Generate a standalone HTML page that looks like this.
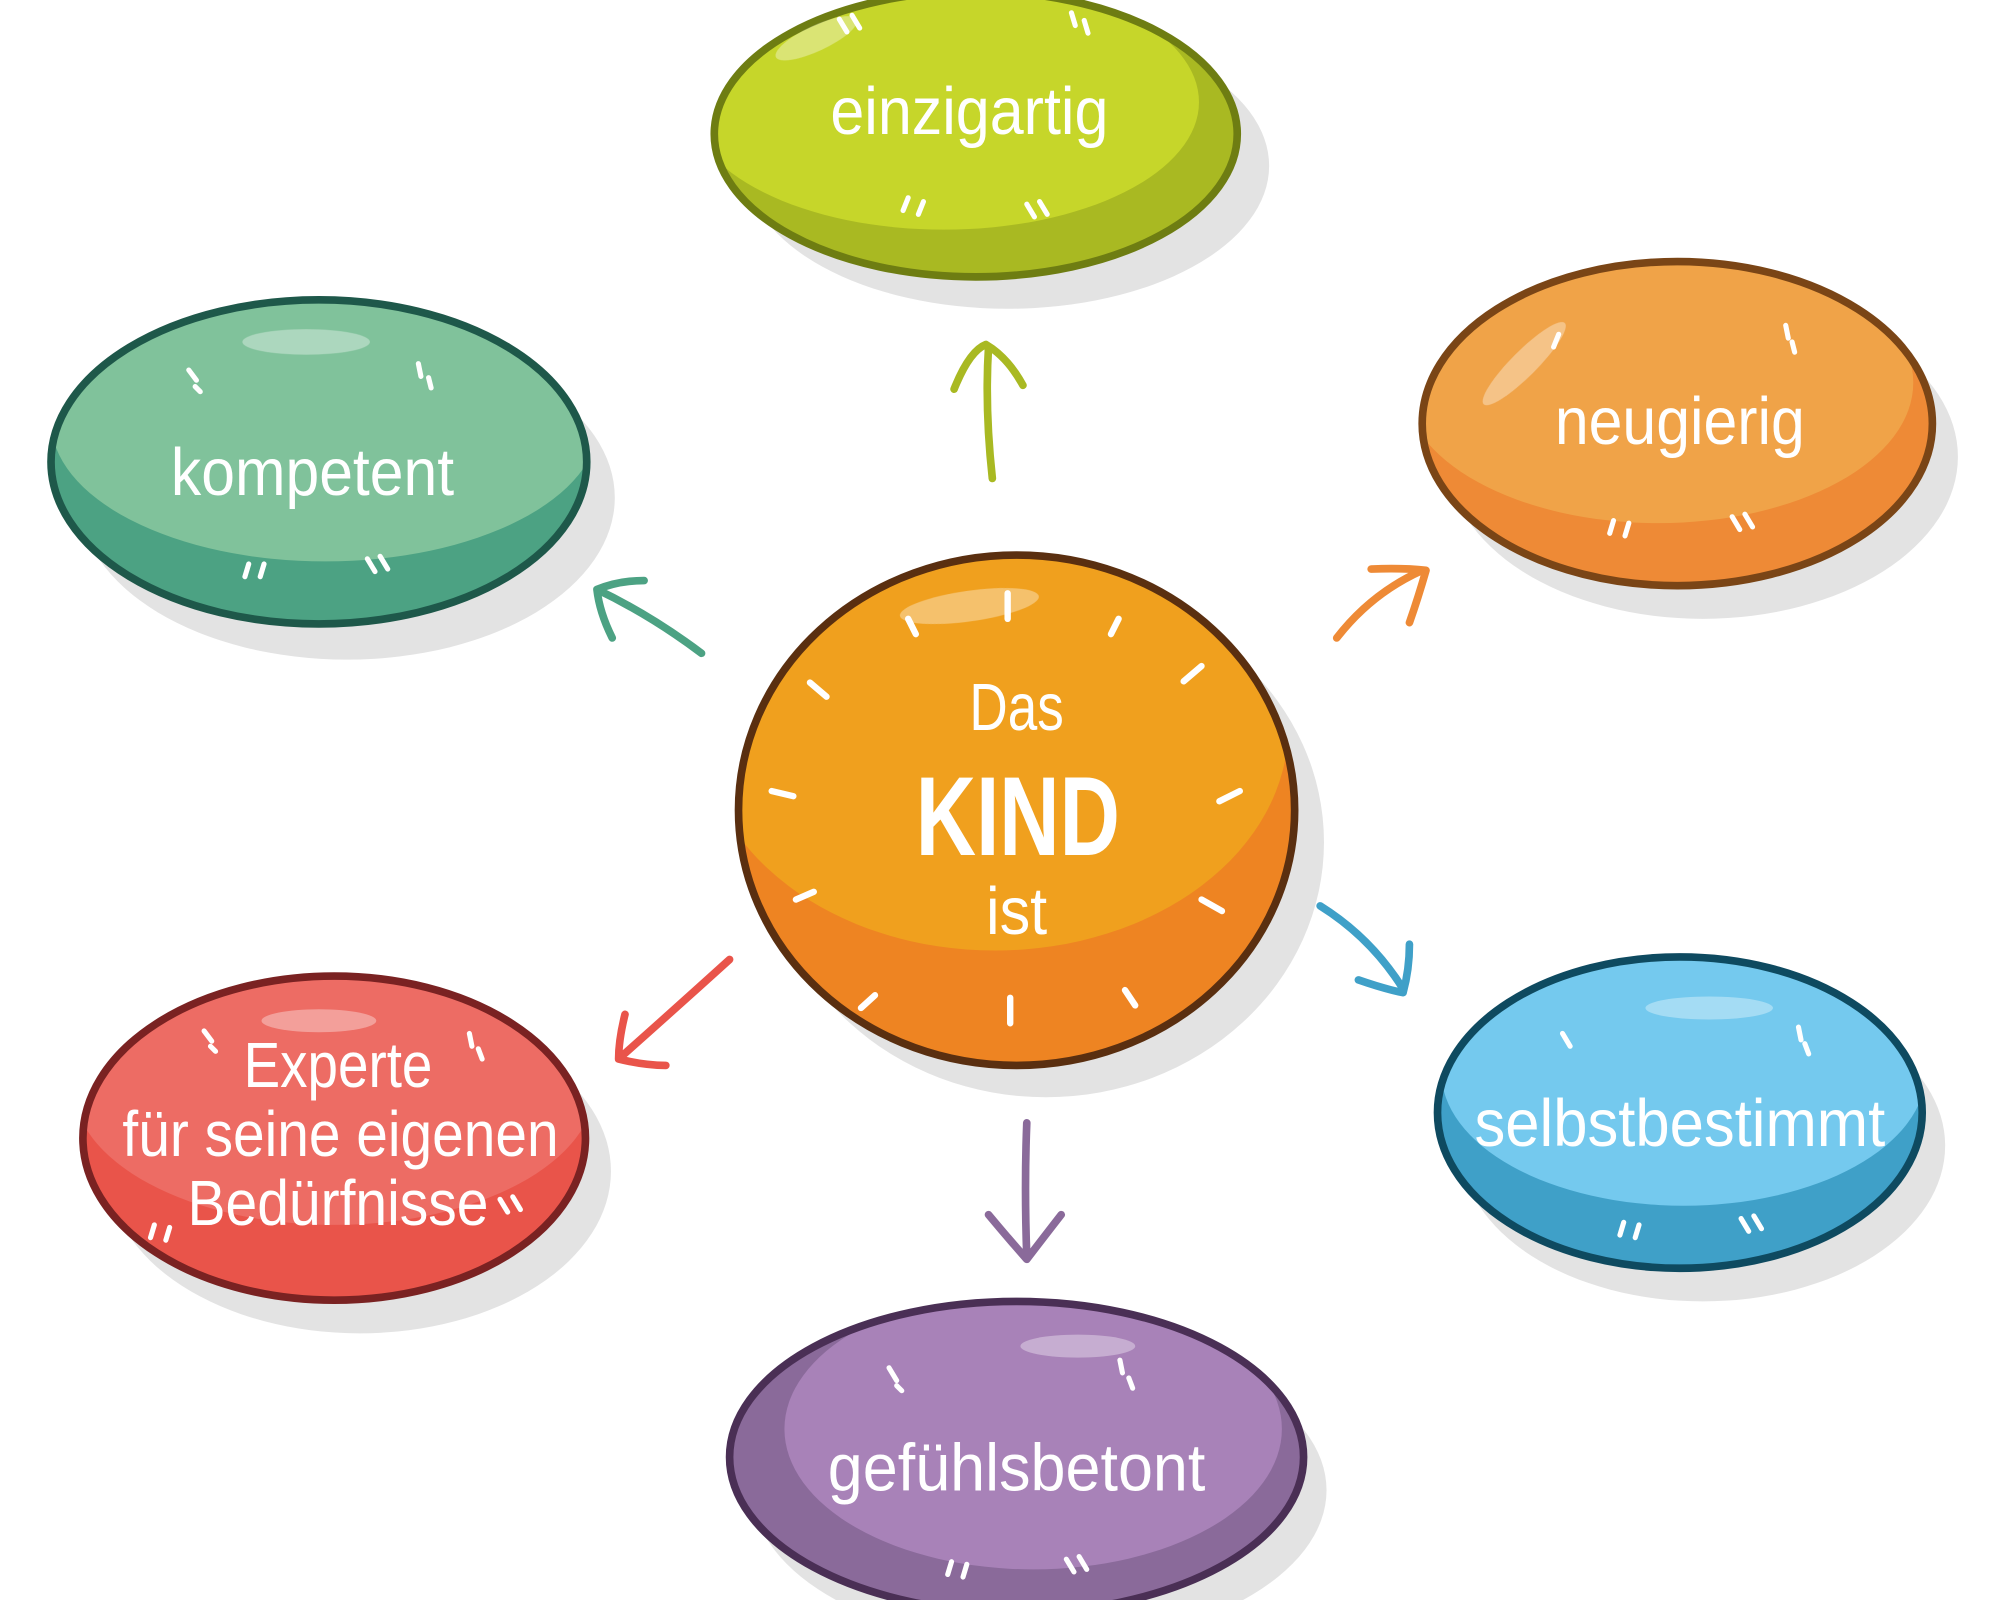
<!DOCTYPE html>
<html><head><meta charset="utf-8"><style>
html,body{margin:0;padding:0;background:#fff;width:2000px;height:1600px;overflow:hidden}
svg{display:block}
text{font-family:"Liberation Sans Narrow","Liberation Sans",sans-serif;fill:#fff}
</style></head><body>
<svg width="2000" height="1600" viewBox="0 0 1568 1254" preserveAspectRatio="none" xmlns="http://www.w3.org/2000/svg">
<defs>
<clipPath id="c1"><ellipse cx="765" cy="105" rx="205" ry="112"/></clipPath>
<clipPath id="c2"><ellipse cx="250" cy="362" rx="210" ry="127"/></clipPath>
<clipPath id="c3"><ellipse cx="1315" cy="332" rx="200" ry="127"/></clipPath>
<clipPath id="c4"><ellipse cx="797" cy="635" rx="218" ry="200"/></clipPath>
<clipPath id="c5"><ellipse cx="262" cy="892" rx="197" ry="127"/></clipPath>
<clipPath id="c6"><ellipse cx="1317" cy="872" rx="190" ry="122"/></clipPath>
<clipPath id="c7"><ellipse cx="797" cy="1142" rx="225" ry="122"/></clipPath>
</defs>
<g fill="#e3e3e3">
<ellipse cx="790" cy="130" rx="205" ry="112"/>
<ellipse cx="272" cy="390" rx="210" ry="127"/>
<ellipse cx="1335" cy="358" rx="200" ry="127"/>
<ellipse cx="820" cy="660" rx="218" ry="200"/>
<ellipse cx="282" cy="918" rx="197" ry="127"/>
<ellipse cx="1335" cy="898" rx="190" ry="122"/>
<ellipse cx="815" cy="1168" rx="225" ry="122"/>
</g>
<!-- blobs -->
<g stroke-width="6">
<g clip-path="url(#c1)"><rect x="540" y="-20" width="450" height="260" fill="#a9b922"/><ellipse cx="740" cy="80" rx="200" ry="100" fill="#c6d62a"/></g>
<ellipse cx="765" cy="105" rx="205" ry="112" fill="none" stroke="#6e7d12"/>
<g clip-path="url(#c2)"><rect x="30" y="220" width="450" height="290" fill="#4ca283"/><ellipse cx="255" cy="330" rx="215" ry="110" fill="#80c29b"/></g>
<ellipse cx="250" cy="362" rx="210" ry="127" fill="none" stroke="#1e584a"/>
<g clip-path="url(#c3)"><rect x="1100" y="190" width="430" height="290" fill="#ee8a36"/><ellipse cx="1300" cy="300" rx="200" ry="110" fill="#f0a348"/></g>
<ellipse cx="1315" cy="332" rx="200" ry="127" fill="none" stroke="#7a4516"/>
<g clip-path="url(#c4)"><rect x="570" y="420" width="460" height="430" fill="#ee8422"/><ellipse cx="780" cy="570" rx="230" ry="175" fill="#f0a01e"/></g>
<ellipse cx="797" cy="635" rx="218" ry="200" fill="none" stroke="#5a2f10"/>
<g clip-path="url(#c5)"><rect x="50" y="750" width="430" height="290" fill="#e9544a"/><ellipse cx="262" cy="850" rx="205" ry="110" fill="#ed6c64"/></g>
<ellipse cx="262" cy="892" rx="197" ry="127" fill="none" stroke="#7a2222"/>
<g clip-path="url(#c6)"><rect x="1110" y="740" width="420" height="270" fill="#3fa0c8"/><ellipse cx="1320" cy="840" rx="190" ry="105" fill="#74c9ee"/></g>
<ellipse cx="1317" cy="872" rx="190" ry="122" fill="none" stroke="#0e4a60"/>
<g clip-path="url(#c7)"><rect x="560" y="1010" width="480" height="260" fill="#8a6a9a"/><ellipse cx="810" cy="1120" rx="195" ry="110" fill="#a882b8"/></g>
<ellipse cx="797" cy="1142" rx="225" ry="122" fill="none" stroke="#4a2f55"/>
</g>
<!-- highlights -->
<g fill="#fff" opacity="0.35">
<ellipse cx="640" cy="30" rx="35" ry="10" transform="rotate(-25 640 30)"/>
<ellipse cx="240" cy="268" rx="50" ry="10"/>
<ellipse cx="1195" cy="285" rx="45" ry="10" transform="rotate(-45 1195 285)"/>
<ellipse cx="760" cy="475" rx="55" ry="12" transform="rotate(-8 760 475)"/>
<ellipse cx="250" cy="800" rx="45" ry="9"/>
<ellipse cx="1340" cy="790" rx="50" ry="9"/>
<ellipse cx="845" cy="1055" rx="45" ry="9"/>
</g>
<!-- ticks on center -->
<g stroke="#fff" stroke-width="5" stroke-linecap="round">
<line x1="790" y1="465" x2="790" y2="485"/><line x1="712" y1="485" x2="718" y2="497"/><line x1="877" y1="485" x2="871" y2="497"/>
<line x1="635" y1="535" x2="648" y2="546"/><line x1="942" y1="522" x2="928" y2="534"/>
<line x1="605" y1="620" x2="622" y2="624"/><line x1="972" y1="620" x2="956" y2="628"/>
<line x1="624" y1="705" x2="638" y2="699"/><line x1="942" y1="705" x2="958" y2="714"/>
<line x1="675" y1="790" x2="686" y2="780"/><line x1="792" y1="782" x2="792" y2="802"/><line x1="882" y1="776" x2="890" y2="788"/>
</g>
<!-- small quote marks -->
<g stroke="#fff" stroke-width="4" stroke-linecap="round">
<path d="M658 15 l6 10 M668 12 l6 10 M840 10 l3 10 M850 16 l3 10 M708 165 l4 -10 M720 168 l4 -10 M805 160 l6 10 M815 158 l6 10"/>
<path d="M148 290 l6 8 M153 303 l4 4 M328 285 l2 10 M336 296 l2 8 M192 452 l3 -10 M204 452 l3 -10 M288 438 l6 10 M298 436 l6 10"/>
<path d="M1222 262 l-4 10 M1400 255 l2 10 M1405 268 l2 8 M1262 418 l3 -10 M1274 420 l3 -10 M1358 405 l6 10 M1368 403 l6 10"/>
<path d="M160 808 l6 8 M165 820 l4 4 M368 810 l2 10 M375 822 l3 8 M118 970 l3 -10 M130 972 l3 -10 M392 940 l6 10 M402 938 l6 10"/>
<path d="M1225 810 l6 10 M1410 805 l2 10 M1415 818 l3 8 M1270 968 l3 -10 M1282 970 l3 -10 M1365 955 l6 10 M1375 953 l6 10"/>
<path d="M697 1072 l6 10 M703 1086 l4 4 M878 1066 l2 10 M885 1080 l3 8 M743 1234 l3 -10 M755 1236 l3 -10 M836 1222 l6 10 M846 1220 l6 10"/>
</g>
<!-- arrows -->
<g fill="none" stroke-width="6" stroke-linecap="round" stroke-linejoin="round">
<path d="M778 375 Q772 320 775 272 M748 305 Q760 275 773 270 Q790 280 802 302" stroke="#a9b922"/>
<path d="M550 512 Q510 482 468 462 M480 500 Q470 480 468 462 Q485 455 505 455" stroke="#4ca283"/>
<path d="M1048 500 Q1075 465 1115 447 M1075 446 Q1100 445 1118 447 Q1112 468 1105 488" stroke="#ee8a36"/>
<path d="M572 752 Q530 790 485 830 M490 795 Q485 815 485 830 Q505 835 522 835" stroke="#e9544a"/>
<path d="M1035 710 Q1075 735 1100 775 M1065 768 Q1085 775 1100 778 Q1105 760 1105 740" stroke="#3fa0c8"/>
<path d="M805 880 Q803 930 805 985 M775 952 Q790 970 805 987 Q818 970 832 952" stroke="#8a6a9a"/>
</g>
<!-- text -->
<text x="760" y="105" font-size="52" text-anchor="middle" textLength="218" lengthAdjust="spacingAndGlyphs">einzigartig</text>
<text x="245" y="388" font-size="52" text-anchor="middle" textLength="222" lengthAdjust="spacingAndGlyphs">kompetent</text>
<text x="1317" y="348" font-size="52" text-anchor="middle" textLength="196" lengthAdjust="spacingAndGlyphs">neugierig</text>
<text x="797" y="572" font-size="52" text-anchor="middle" textLength="74" lengthAdjust="spacingAndGlyphs">Das</text>
<text x="798" y="670" font-size="88" font-weight="bold" text-anchor="middle" textLength="160" lengthAdjust="spacingAndGlyphs">KIND</text>
<text x="797" y="732" font-size="52" text-anchor="middle" textLength="48" lengthAdjust="spacingAndGlyphs">ist</text>
<text x="265" y="852" font-size="50" text-anchor="middle" textLength="148" lengthAdjust="spacingAndGlyphs">Experte</text>
<text x="267" y="906" font-size="50" text-anchor="middle" textLength="342" lengthAdjust="spacingAndGlyphs">für seine eigenen</text>
<text x="265" y="960" font-size="50" text-anchor="middle" textLength="236" lengthAdjust="spacingAndGlyphs">Bedürfnisse</text>
<text x="1317" y="898" font-size="52" text-anchor="middle" textLength="322" lengthAdjust="spacingAndGlyphs">selbstbestimmt</text>
<text x="797" y="1168" font-size="52" text-anchor="middle" textLength="296" lengthAdjust="spacingAndGlyphs">gefühlsbetont</text>
</svg>
</body></html>
